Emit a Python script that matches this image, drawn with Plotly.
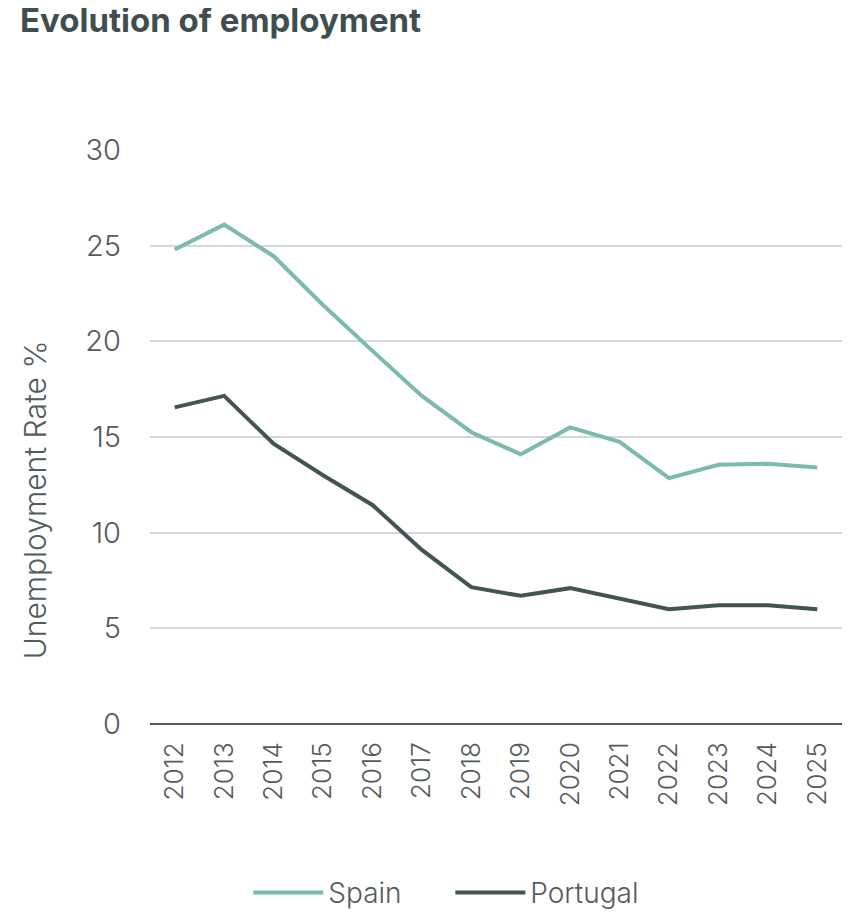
import plotly.graph_objects as go

years = ["2012", "2013", "2014", "2015", "2016", "2017", "2018", "2019",
         "2020", "2021", "2022", "2023", "2024", "2025"]
spain = [24.8, 26.1, 24.45, 21.9, 19.5, 17.15, 15.25, 14.1, 15.5, 14.75, 12.85, 13.55, 13.6, 13.4]
portugal = [16.55, 17.15, 14.65, 13.0, 11.45, 9.1, 7.15, 6.7, 7.1, 6.55, 6.0, 6.2, 6.2, 6.0]
y_ticks = [0, 5, 10, 15, 20, 25, 30]

SPAIN_C = "#7dbba9"
PORT_C = "#435454"
TEXT_C = "#555a5a"
FONT = "Inter, Roboto, sans-serif"

# page body has an 8px default margin, so the figure is sized 8px smaller
W, H = 843, 905

fig = go.Figure()
fig.add_trace(go.Scatter(x=years, y=spain, mode="lines", name="Spain",
                         line=dict(color=SPAIN_C, width=4)))
fig.add_trace(go.Scatter(x=years, y=portugal, mode="lines", name="Portugal",
                         line=dict(color=PORT_C, width=4)))

fig.add_annotation(text="Unemployment Rate %", textangle=-90,
                   xref="paper", yref="paper", x=-0.166, y=0.39,
                   xanchor="center", yanchor="middle", showarrow=False,
                   font=dict(size=30, color=TEXT_C, weight=300))

fig.update_layout(
    width=W, height=H,
    margin=dict(l=142, r=9, t=142, b=189, autoexpand=False),
    plot_bgcolor="white", paper_bgcolor="white",
    font=dict(family=FONT, color=TEXT_C, size=24, weight=300),
    title=dict(text="<b>Evolution of employment</b>", x=12 / W, xanchor="left",
               y=1 - 12 / H, yanchor="middle",
               font=dict(size=33, color="#3f4e4e", family=FONT, weight=700)),
    showlegend=True,
    legend=dict(orientation="h", x=0.434, xanchor="center", y=-0.294, yanchor="middle",
                font=dict(size=28, color=TEXT_C, weight=300), itemwidth=70,
                entrywidth=117),
    xaxis=dict(type="category", tickangle=-90, showgrid=False, showline=False,
               ticks="", tickfont=dict(size=26, color=TEXT_C, weight=300),
               range=[-0.5, 13.5], ticklabelstandoff=12, automargin=False),
    yaxis=dict(range=[0, 30], tickvals=y_ticks, showgrid=True, gridcolor="#d3d8da",
               gridwidth=2, zeroline=True, zerolinecolor="#4f5f5f", zerolinewidth=2,
               showline=False, ticks="", tickfont=dict(size=29, color=TEXT_C, weight=300),
               ticklabelstandoff=28, automargin=False),
)

fig.write_html("out.html")
